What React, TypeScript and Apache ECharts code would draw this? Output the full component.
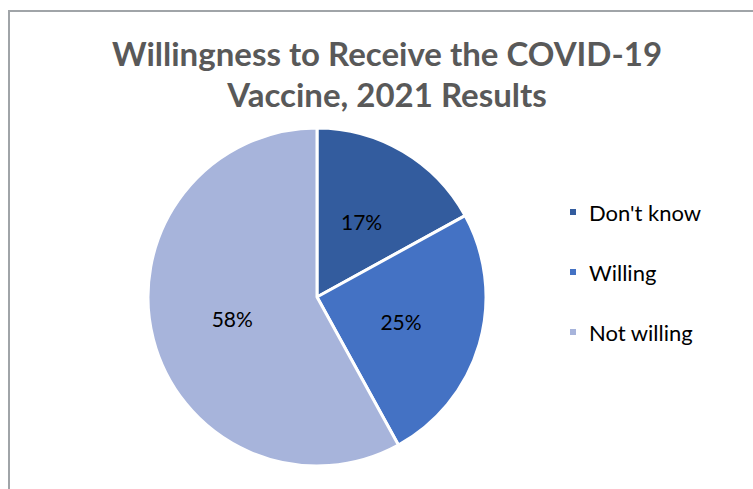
import React, { useEffect, useRef } from "react";
import * as echarts from "echarts";

const categories = ["Don't know", "Willing", "Not willing"];
const values = [17, 25, 58];
const colors = ["#335C9E", "#4472C4", "#A7B4DB"];
const titleText = "Willingness to Receive the COVID-19\nVaccine, 2021 Results";

export default function App() {
  const ref = useRef<HTMLDivElement>(null);
  useEffect(() => {
    document.body.style.margin = "0";
    const chart = echarts.init(ref.current!, null, { renderer: "svg" });
    chart.setOption({
      animation: false,
      backgroundColor: "#ffffff",
      title: {
        text: titleText,
        left: 387,
        top: 32,
        padding: 0,
        textAlign: "center",
        textStyle: {
          fontFamily: "Lato",
          fontWeight: "bold",
          fontSize: 33,
          lineHeight: 41,
          color: "#595959",
        },
      },
      graphic: [
        {
          type: "rect",
          shape: { x: 9, y: 11, width: 800, height: 600 },
          style: { fill: "none", stroke: "#A0A4A8", lineWidth: 2 },
          silent: true,
        },
      ],
      legend: {
        orient: "vertical",
        left: 568,
        top: 201,
        padding: 0,
        itemWidth: 8,
        itemHeight: 8,
        itemGap: 38,
        icon: "rect",
        data: categories,
        textStyle: {
          fontFamily: "Lato",
          fontSize: 22,
          lineHeight: 22,
          color: "#000000",
          padding: [0, 0, 0, 7],
        },
      },
      series: [
        {
          type: "pie",
          center: [317, 297],
          radius: 169,
          startAngle: 90,
          clockwise: true,
          data: categories.map((c, i) => ({
            name: c,
            value: values[i],
            itemStyle: { color: colors[i] },
          })),
          itemStyle: { borderColor: "#ffffff", borderWidth: 3 },
          label: {
            position: "inside",
            formatter: "{c}%",
            fontFamily: "Lato",
            fontSize: 21,
            color: "#000000",
          },
          labelLine: { show: false },
          emphasis: { disabled: true },
        },
      ],
    });
    return () => chart.dispose();
  }, []);
  return <div ref={ref} style={{ width: 753, height: 489 }} />;
}
